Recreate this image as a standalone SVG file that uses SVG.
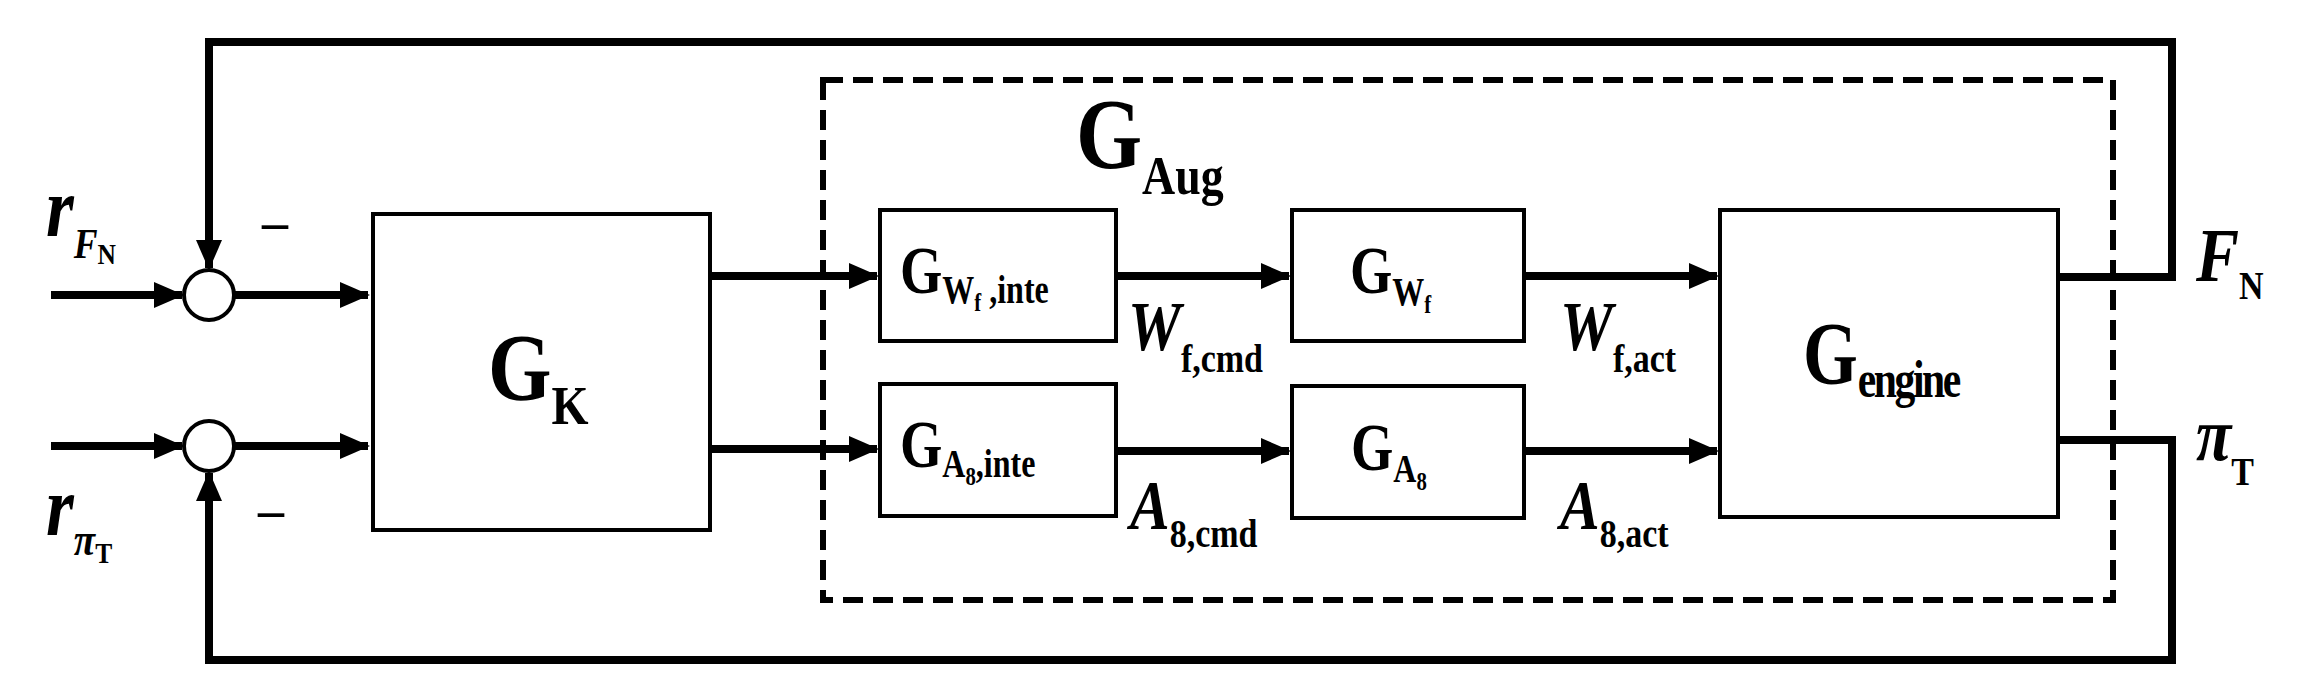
<svg xmlns="http://www.w3.org/2000/svg" width="2307" height="700" viewBox="0 0 2307 700">
<style>
.box{fill:#fff;stroke:#000;stroke-width:4}
.w{fill:none;stroke:#000;stroke-width:8}
.t{font-family:"Liberation Serif",serif;font-weight:bold;fill:#000}
.i{font-style:italic}
.n{font-style:normal}
</style>
<defs>
<marker id="ah" markerUnits="userSpaceOnUse" markerWidth="30" markerHeight="26" refX="28" refY="13" orient="auto"><path d="M0,0 L30,13 L0,26 Z" fill="#000"/></marker>
</defs>
<rect width="2307" height="700" fill="#fff"/>
<rect x="823" y="80" width="1290" height="520" fill="none" stroke="#000" stroke-width="6" stroke-dasharray="20,10"/>
<g id="connectors">
<path class="w" d="M51,295 H182" marker-end="url(#ah)"/>
<path class="w" d="M234,295 H368" marker-end="url(#ah)"/>
<path class="w" d="M51,446 H182" marker-end="url(#ah)"/>
<path class="w" d="M234,446 H368" marker-end="url(#ah)"/>
<path class="w" d="M2058,277 H2172 V42 H209 V268" marker-end="url(#ah)"/>
<path class="w" d="M2058,440 H2172 V660 H209 V473" marker-end="url(#ah)"/>
<path class="w" d="M710,276 H877" marker-end="url(#ah)"/>
<path class="w" d="M710,449 H877" marker-end="url(#ah)"/>
<path class="w" d="M1116,276 H1289" marker-end="url(#ah)"/>
<path class="w" d="M1116,451 H1289" marker-end="url(#ah)"/>
<path class="w" d="M1524,276 H1717" marker-end="url(#ah)"/>
<path class="w" d="M1524,451 H1717" marker-end="url(#ah)"/>
</g>
<g id="sum1"><circle cx="209" cy="295" r="25" fill="#fff" stroke="#000" stroke-width="4"/></g>
<g id="sum2"><circle cx="209" cy="446" r="25" fill="#fff" stroke="#000" stroke-width="4"/></g>
<g id="GK"><rect class="box" x="373" y="214" width="337" height="316"/>
<text class="t" transform="translate(488,400) scale(0.85,1)" font-size="96">G<tspan font-size="56" dy="24">K</tspan></text></g>
<g id="GWfinte"><rect class="box" x="880" y="210" width="236" height="131"/>
<text class="t" transform="translate(900,293) scale(0.8,1)" font-size="68">G<tspan font-size="40" dy="10">W</tspan><tspan font-size="26" dy="8">f</tspan><tspan font-size="40" dy="-8"> ,inte</tspan></text></g>
<g id="GA8inte"><rect class="box" x="880" y="384" width="236" height="132"/>
<text class="t" transform="translate(900,467) scale(0.8,1)" font-size="68">G<tspan font-size="40" dy="10">A</tspan><tspan font-size="26" dy="8">8</tspan><tspan font-size="40" dy="-8">,inte</tspan></text></g>
<g id="GWf"><rect class="box" x="1292" y="210" width="232" height="131"/>
<text class="t" transform="translate(1350,293) scale(0.8,1)" font-size="68">G<tspan font-size="40" dy="12">W</tspan><tspan font-size="26" dy="8">f</tspan></text></g>
<g id="GA8"><rect class="box" x="1292" y="386" width="232" height="132"/>
<text class="t" transform="translate(1351,470) scale(0.8,1)" font-size="68">G<tspan font-size="40" dy="12">A</tspan><tspan font-size="26" dy="8">8</tspan></text></g>
<g id="Gengine"><rect class="box" x="1720" y="210" width="338" height="307"/>
<text class="t" transform="translate(1803,383) scale(0.8,1)" font-size="88">G<tspan font-size="52" dy="14" letter-spacing="-3">engine</tspan></text></g>
<g id="labels">
<text class="t" transform="translate(1076,167) scale(0.85,1)" font-size="100">G<tspan font-size="54" dy="27">Aug</tspan></text>
<text class="t" x="262" y="240" font-size="52" font-family="Liberation Sans">–</text>
<text class="t" x="258" y="528" font-size="52" font-family="Liberation Sans">–</text>
<text class="t i" transform="translate(46,236) scale(0.85,1)" font-size="84">r<tspan font-size="42" dy="22">F</tspan><tspan class="n" font-size="30" dy="6">N</tspan></text>
<text class="t i" transform="translate(46,535) scale(0.85,1)" font-size="84">r<tspan font-size="46" dy="20">π</tspan><tspan class="n" font-size="30" dy="8">T</tspan></text>
<text class="t i" transform="translate(1128,350) scale(0.85,1)" font-size="70">W<tspan class="n" font-size="40" dy="22">f,cmd</tspan></text>
<text class="t i" transform="translate(1560,350) scale(0.85,1)" font-size="70">W<tspan class="n" font-size="40" dy="22">f,act</tspan></text>
<text class="t i" transform="translate(1130,529) scale(0.85,1)" font-size="70">A<tspan class="n" font-size="40" dy="18">8,cmd</tspan></text>
<text class="t i" transform="translate(1560,529) scale(0.85,1)" font-size="70">A<tspan class="n" font-size="40" dy="18">8,act</tspan></text>
<text class="t i" transform="translate(2196,281) scale(0.85,1)" font-size="76">F<tspan class="n" font-size="40" dy="18">N</tspan></text>
<text class="t i" transform="translate(2196,460) scale(0.85,1)" font-size="76">π<tspan class="n" font-size="40" dy="25">T</tspan></text>
</g>
</svg>
